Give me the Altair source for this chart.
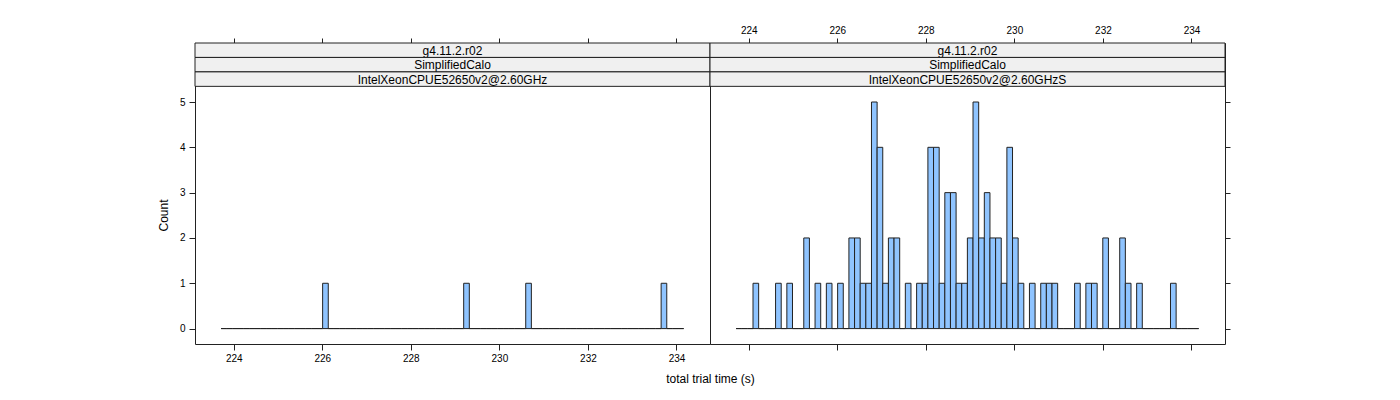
import altair as alt
import numpy as np
import pandas as pd

# ---- data ----
BIN_LOW = 223.714
BIN_HIGH = 234.163
N_BINS = 82

COUNTS_LEFT = [
    0, 0, 0, 0, 0, 0, 0, 0, 0, 0,
    0, 0, 0, 0, 0, 0, 0, 0, 1, 0,
    0, 0, 0, 0, 0, 0, 0, 0, 0, 0,
    0, 0, 0, 0, 0, 0, 0, 0, 0, 0,
    0, 0, 0, 1, 0, 0, 0, 0, 0, 0,
    0, 0, 0, 0, 1, 0, 0, 0, 0, 0,
    0, 0, 0, 0, 0, 0, 0, 0, 0, 0,
    0, 0, 0, 0, 0, 0, 0, 0, 1, 0,
    0, 0,
]
COUNTS_RIGHT = [
    0, 0, 0, 1, 0, 0, 0, 1, 0, 1,
    0, 0, 2, 0, 1, 0, 1, 0, 1, 0,
    2, 2, 1, 1, 5, 4, 1, 2, 2, 0,
    1, 0, 1, 1, 4, 4, 1, 3, 3, 1,
    1, 2, 5, 2, 3, 2, 2, 1, 4, 2,
    1, 0, 1, 0, 1, 1, 1, 0, 0, 0,
    1, 0, 1, 1, 0, 2, 0, 0, 2, 1,
    0, 1, 0, 0, 0, 0, 0, 1, 0, 0,
    0, 0,
]
STRIPS_LEFT = ["g4.11.2.r02", "SimplifiedCalo", "IntelXeonCPUE52650v2@2.60GHz"]
STRIPS_RIGHT = ["g4.11.2.r02", "SimplifiedCalo", "IntelXeonCPUE52650v2@2.60GHzS"]
X_TICKS = [224, 226, 228, 230, 232, 234]
Y_TICKS = [0, 1, 2, 3, 4, 5]
X_TITLE = "total trial time (s)"
Y_TITLE = "Count"

# ---- styling / layout ----
W, H = 515, 301
STRIP_H = 14.45
X_DOM = [223.125, 234.757]
Y_DOM = [-0.34, 6.302]
BAR_FILL = "#8FC4FF"
INK = "#222222"
STRIP_FILL = "#F0F0F0"
FONT = "Liberation Sans"

edges = np.linspace(BIN_LOW, BIN_HIGH, N_BINS + 1)


def x_axis(orient, labels, **kw):
    return alt.Axis(orient=orient, values=X_TICKS, labels=labels, ticks=True,
                    tickSize=6 if orient == "bottom" else 5, tickColor=INK,
                    domain=False, grid=False, labelFontSize=10, labelColor="black",
                    labelPadding=3, labelFont=FONT, **kw)


def y_axis(orient, labels, **kw):
    return alt.Axis(orient=orient, values=Y_TICKS, labels=labels, ticks=True,
                    tickSize=6 if orient == "left" else 5, tickColor=INK,
                    domain=False, grid=False, labelFontSize=10, labelColor="black",
                    labelPadding=4, labelFont=FONT, **kw)


def panel(counts, strips, first):
    df = pd.DataFrame({"lo": edges[:-1], "hi": edges[1:], "n": counts})
    xs = alt.Scale(domain=X_DOM, nice=False, zero=False)
    ys = alt.Scale(domain=Y_DOM, nice=False, zero=False)
    if first:
        xa_main = x_axis("bottom", True, title=X_TITLE, titleX=W, titleY=29,
                         titleAlign="center", titleBaseline="top", titleFontSize=12,
                         titleFontWeight="normal", titleColor="black", titleFont=FONT)
        xa_sec = x_axis("top", False, title=None)
        ya_main = y_axis("left", True, title=Y_TITLE, titleX=-32, titleY=172,
                         titleAngle=270, titleAlign="center", titleBaseline="middle",
                         titleFontSize=12, titleFontWeight="normal",
                         titleColor="black", titleFont=FONT)
    else:
        xa_main = x_axis("top", True, title=None)
        xa_sec = x_axis("bottom", False, title=None)
        ya_main = y_axis("right", False, title=None)

    ghost = alt.Chart(df).mark_bar(opacity=0).encode(
        x=alt.X("lo:Q", scale=xs, axis=xa_sec),
        x2="hi:Q",
        y=alt.Y("n:Q", scale=ys, axis=None, stack=None),
        y2=alt.datum(0),
    )
    bars = alt.Chart(df).mark_bar(fill=BAR_FILL, stroke=INK, strokeWidth=1).encode(
        x=alt.X("lo:Q", scale=xs, axis=xa_main),
        x2="hi:Q",
        y=alt.Y("n:Q", scale=ys, axis=ya_main, stack=None),
        y2=alt.datum(0),
    )
    layers = [ghost, bars]
    for i, label in enumerate(strips):
        sdf = pd.DataFrame({"label": [label]})
        rect = alt.Chart(sdf).mark_rect(fill=STRIP_FILL, stroke=INK, strokeWidth=1).encode(
            x=alt.value(0), x2=alt.value(W),
            y=alt.value(i * STRIP_H), y2=alt.value((i + 1) * STRIP_H),
        )
        txt = alt.Chart(sdf).mark_text(fontSize=12, font=FONT, color="black",
                                       align="center", baseline="middle").encode(
            text="label:N",
            x=alt.value(W / 2),
            y=alt.value((i + 0.5) * STRIP_H + 0.5),
        )
        layers += [rect, txt]
    return alt.layer(*layers).resolve_axis(x="independent", y="independent").properties(
        width=W, height=H,
        view=alt.ViewBackground(stroke=INK, strokeWidth=1, fill="white"))


chart = alt.hconcat(
    panel(COUNTS_LEFT, STRIPS_LEFT, True),
    panel(COUNTS_RIGHT, STRIPS_RIGHT, False),
    spacing=0,
    bounds="flush",
).properties(
    padding={"left": 148, "top": 16, "right": 5, "bottom": 5},
).configure_view(
    stroke=INK, strokeWidth=1
).configure(
    font=FONT, background="white"
)

chart.save("out.html", embed_options={"renderer": "svg", "actions": False})
